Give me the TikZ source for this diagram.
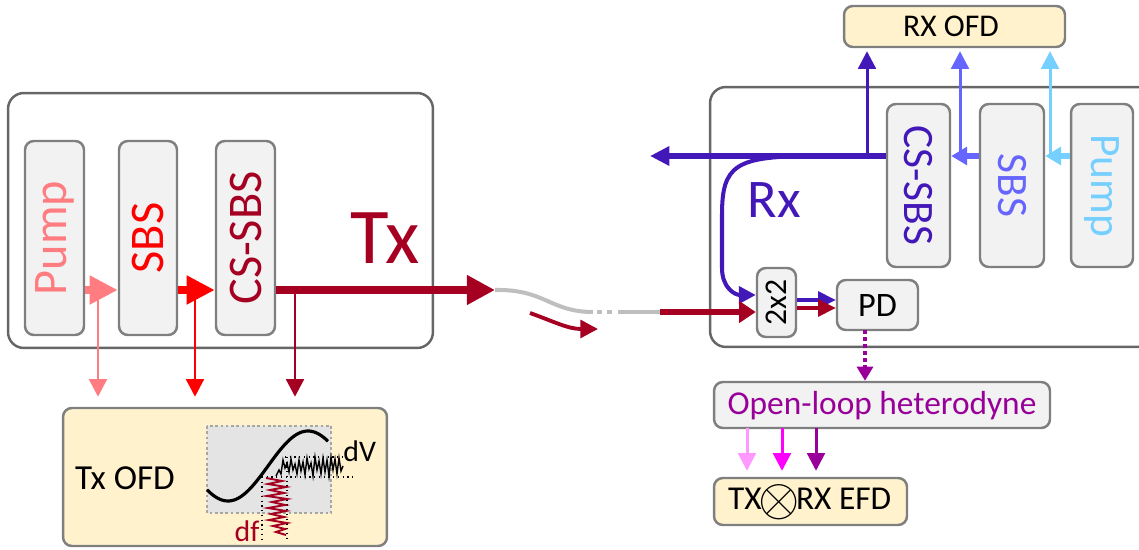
\documentclass[tikz,border=0pt]{standalone}
\usepackage{fontspec}
\usepackage{graphicx}
\setmainfont{Carlito}
\usetikzlibrary{arrows.meta}
\definecolor{txred}{HTML}{A50021}
\definecolor{salmonc}{HTML}{FF7C80}
\definecolor{redc}{HTML}{FF0000}
\definecolor{violetc}{HTML}{4318B8}
\definecolor{sbsblue}{HTML}{6666FF}
\definecolor{lblue}{HTML}{75CFFF}
\definecolor{purplec}{HTML}{990099}
\definecolor{pinkc}{HTML}{FF99FF}
\definecolor{magentac}{HTML}{FF00FF}
\definecolor{yfill}{HTML}{FFF2CC}
\definecolor{bfill}{HTML}{F2F2F2}
\definecolor{bdraw}{HTML}{7F7F7F}
\definecolor{odraw}{HTML}{666666}
\definecolor{fiber}{HTML}{BFBFBF}
\definecolor{plotfill}{HTML}{E4E4E4}
\definecolor{plotdraw}{HTML}{A6A6A6}
\tikzset{
  fs/.style={font=\fontsize{#1}{#1}\selectfont},
  outerbox/.style={draw=odraw, line width=1.4pt, rounded corners=9pt, inner sep=0pt},
  vbox/.style={draw=bdraw, fill=bfill, line width=1.4pt, rounded corners=5pt, inner sep=0pt},
  ybox/.style={draw=bdraw, fill=yfill, line width=1.4pt, rounded corners=5pt, inner sep=0pt},
  bigarrow/.style={line width=4.6pt, -{Triangle[length=16pt,width=15.5pt]}},
  thinarrow/.style={line width=1.7pt, -{Triangle[length=10pt,width=10pt]}},
  midarrow/.style={line width=3.4pt, -{Triangle[length=9pt,width=10pt]}},
}
\begin{document}
\begin{tikzpicture}[x=0.02cm,y=-0.02cm]
\useasboundingbox (0,0) rectangle (1139,550);
% ---------------- Tx side
\node[outerbox, minimum width=8.5cm, minimum height=5.1cm] (txbox) at (220.5,220.5) {};
\node[vbox, minimum width=1.18cm, minimum height=3.88cm] (pumpL) at (54.5,238) {};
\node[vbox, minimum width=1.16cm, minimum height=3.88cm] (sbsL) at (148,238) {};
\node[vbox, minimum width=1.18cm, minimum height=3.88cm] (cssbsL) at (245.5,238) {};
\node[rotate=90, text=salmonc, fs=27.5] (pumpLt) at (pumpL.center) {Pump};
\node[rotate=90, text=redc, fs=27.5] (sbsLt) at (sbsL.center) {SBS};
\node[rotate=90, text=txred, fs=27.5] (cssbsLt) at (cssbsL.center) {CS-SBS};
\node[text=txred, fs=45] (txlabel) at (385,238) {Tx};
\coordinate (yL) at (0,290);
\coordinate (txout) at (495,290);
\draw[salmonc, bigarrow] (pumpL.east |- yL) -- (sbsL.west |- yL);
\draw[redc, bigarrow] (sbsL.east |- yL) -- (cssbsL.west |- yL);
\draw[txred, line width=5pt, -{Triangle[length=16pt,width=16pt]}] (cssbsL.east |- yL) -- (txout);
% Tx OFD
\node[ybox, minimum width=6.48cm, minimum height=2.76cm] (txofd) at (225,477) {};
\node[fs=20] (txofdt) at (125,478) {Tx OFD};
\coordinate (d1) at (98,290);
\coordinate (d2) at (195,290);
\coordinate (d3) at (295,290);
\draw[salmonc, thinarrow, shorten >=5.7pt] (d1) -- (d1 |- txofd.north);
\draw[redc, thinarrow, shorten >=5.7pt] (d2) -- (d2 |- txofd.north);
\draw[txred, thinarrow, shorten >=5.7pt] (d3) -- (d3 |- txofd.north);
% plot inside Tx OFD
\fill[plotfill] (207,426) rectangle (331,513);
\draw[plotdraw, line width=1.3pt, dash pattern=on 1.5pt off 1.5pt] (207,426) rectangle (331,513);
\draw[black, line width=0.7pt, dotted] (285,457) -- (345,457);
\draw[black, line width=0.7pt, dotted] (262,477) -- (354,477);
\draw[black, line width=0.7pt, dotted] (262,477) -- (262,541);
\draw[black, line width=0.7pt, dotted] (287,457) -- (287,541);
\draw[black, line width=1.8pt, domain=207:328, samples=60, variable=\t] plot (\t,{466-35*sin((\t-268)*180/80)});
\draw[black, line width=0.8pt] (276,476)--(279,470)--(281,474)--(283,460)--(285,468)--(287,463)--(289,472)--(291,459)--(293,470)--(295,464)--(297,474)--(299,460)--(301,471)--(303,462)--(305,475)--(307,458)--(309,469)--(311,463)--(313,476)--(315,457)--(317,470)--(319,461)--(321,474)--(323,458)--(325,472)--(327,460)--(329,476)--(331,457)--(333,470)--(335,459)--(337,474)--(339,458)--(341,471)--(343,466);
\draw[txred, line width=1.1pt] (266,478)--(282,481)--(268,484)--(286,487)--(270,490)--(284,493)--(267,496)--(287,499)--(272,502)--(285,505)--(268,508)--(286,511)--(271,514)--(284,517)--(269,520)--(287,523)--(273,526)--(285,529)--(276,532)--(286,535);
\node[fs=17, anchor=west, inner sep=0pt] (dv) at (343,451) {dV};
\node[fs=17, text=txred, inner sep=0pt] (df) at (247,531) {df};
% ---------------- fiber
\coordinate (f1) at (593,312);
\coordinate (f2) at (597,312);
\coordinate (f3) at (602,312);
\coordinate (f4) at (607,312);
\coordinate (f5) at (612,312);
\coordinate (f6) at (618,312);
\coordinate (f7) at (660,312);
\draw[fiber, line width=2.3pt] (txout) .. controls (545,289) and (550,312) .. (f1);
\draw[fiber, line width=2.3pt] (f2) -- (f3);
\draw[fiber, line width=2.3pt] (f4) -- (f5);
\draw[fiber, line width=2.3pt] (f6) -- (f7);
\coordinate (c1) at (530,313);
\coordinate (c2) at (598,329);
\draw[txred, line width=2.2pt, -{Triangle[length=10pt,width=10pt]}] (c1) .. controls (555,322) and (568,329) .. (c2);
% ---------------- Rx side
\node[outerbox, minimum width=9cm, minimum height=5.2cm] (rxbox) at (935,217) {};
\node[vbox, minimum width=1.26cm, minimum height=3.26cm] (cssbsR) at (918.5,185.5) {};
\node[vbox, minimum width=1.28cm, minimum height=3.26cm] (sbsR) at (1012,185.5) {};
\node[vbox, minimum width=1.24cm, minimum height=3.26cm] (pumpR) at (1102,185.5) {};
\node[rotate=-90, text=violetc, fs=24.7] (cssbsRt) at (cssbsR.center) {CS-SBS};
\node[rotate=-90, text=sbsblue, fs=24.7] (sbsRt) at (sbsR.center) {SBS};
\node[rotate=-90, text=lblue, fs=24.7] (pumpRt) at (pumpR.center) {Pump};
\node[ybox, minimum width=4.42cm, minimum height=0.82cm] (rxofd) at (954.5,26.5) {};
\node[fs=18] (rxofdt) at (951,26) {RX OFD};
\node[text=violetc, fs=31] (rxlabel) at (774,200) {Rx};
\node[vbox, minimum width=0.78cm, minimum height=1.38cm] (twox2) at (776.5,302.5) {};
\node[rotate=90, fs=18] (twox2t) at (twox2.center) {2x2};
\node[vbox, minimum width=1.62cm, minimum height=1.0cm] (pd) at (877.5,305) {};
\node[fs=19.5] (pdt) at (877.5,306) {PD};
\coordinate (yR) at (0,156);
\coordinate (rxout) at (650,156);
\coordinate (br) at (815,156);
\coordinate (u1) at (867,156);
\coordinate (u2) at (960,156);
\coordinate (u3) at (1050,156);
\draw[lblue, midarrow] (pumpR.west |- yR) -- (sbsR.east |- yR);
\draw[sbsblue, midarrow] (sbsR.west |- yR) -- (cssbsR.east |- yR);
\draw[violetc, line width=3.4pt, -{Triangle[length=11pt,width=10.5pt]}] (cssbsR.west |- yR) -- (rxout);
\coordinate (y295) at (0,295);
\draw[violetc, line width=2.3pt, -{Triangle[length=9.6pt,width=9.6pt]}] (br) .. controls (735,156) and (722,165) .. (722,215) -- (722,268) .. controls (722,288) and (735,295) .. (twox2.west |- y295);
\draw[lblue, thinarrow, shorten >=1.7pt] (u3) -- (u3 |- rxofd.south);
\draw[sbsblue, thinarrow, shorten >=1.7pt] (u2) -- (u2 |- rxofd.south);
\draw[violetc, thinarrow, shorten >=1.7pt] (u1) -- (u1 |- rxofd.south);
\coordinate (y312) at (0,312);
\draw[txred, line width=3.4pt, -{Triangle[length=9.5pt,width=12pt]}] (f7) -- (twox2.west |- y312);
\coordinate (y300) at (0,300);
\coordinate (y308) at (0,308);
\draw[violetc, line width=1.9pt, -{Triangle[length=10pt,width=9.5pt]}] (twox2.east |- y300) -- (pd.west |- y300);
\draw[txred, line width=1.9pt, -{Triangle[length=10pt,width=9.5pt]}] (twox2.east |- y308) -- (pd.west |- y308);
% ---------------- heterodyne
\node[vbox, minimum width=6.72cm, minimum height=0.92cm] (olh) at (882,405) {};
\node[fs=19, text=purplec] (olht) at (882,406) {Open-loop heterodyne};
\coordinate (p1) at (865,330);
\draw[purplec, line width=2.8pt, dash pattern=on 2.3pt off 1.7pt, -{Triangle[length=8pt,width=9pt]}] (p1) -- (p1 |- olh.north);
\node[ybox, minimum width=3.86cm, minimum height=0.94cm] (efd) at (810.5,501.5) {};
\node[fs=19, anchor=west] (efdt) at (722,502) {TX\kern-2pt\raisebox{-3.2pt}{\scalebox{1.75}{$\otimes$}}\kern-2pt RX EFD};
\coordinate (o1) at (747,428);
\coordinate (o2) at (782,428);
\coordinate (o3) at (816,428);
\draw[pinkc, thinarrow, shorten >=3.4pt] (o1) -- (o1 |- efd.north);
\draw[magentac, thinarrow, shorten >=3.4pt] (o2) -- (o2 |- efd.north);
\draw[purplec, thinarrow, shorten >=3.4pt] (o3) -- (o3 |- efd.north);
\end{tikzpicture}
\end{document}
